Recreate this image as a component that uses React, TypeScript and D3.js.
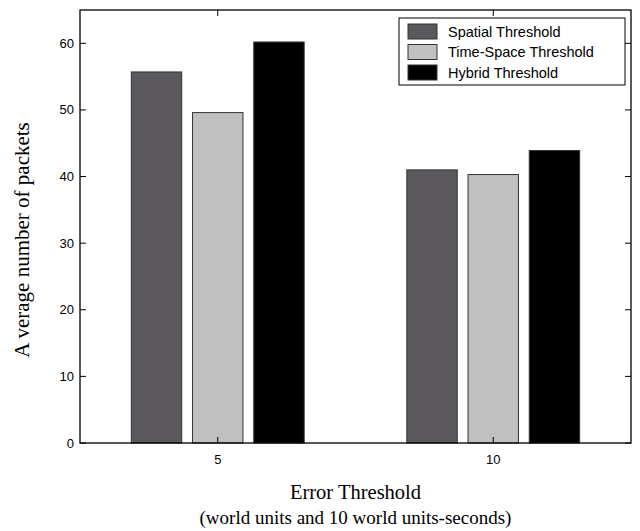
import React from "react";
import * as d3 from "d3";

const categories = ["5", "10"];
const seriesNames = ["Spatial Threshold", "Time-Space Threshold", "Hybrid Threshold"];
const spatial = [55.7, 41.0];
const timeSpace = [49.6, 40.3];
const hybrid = [60.2, 43.9];
const yTicks = [0, 10, 20, 30, 40, 50, 60];
const colors = ["#5b595e", "#c0c0c0", "#000000"];

const W = 640;
const H = 531;
const m = { left: 80, right: 631, top: 10, bottom: 443 };

export default function App() {
  const series = [spatial, timeSpace, hybrid];
  const x = d3.scaleLinear().domain([0.5, 2.5]).range([m.left, m.right]);
  const y = d3.scaleLinear().domain([0, 65]).range([m.bottom, m.top]);
  const spacing = 0.2222;
  const bw = 0.183;
  const tickLen = 6;
  const tickFont = "Liberation Sans, Arial, Helvetica, sans-serif";
  const serif = "Liberation Serif, Times New Roman, serif";

  return (
    <svg
      width={W}
      height={H}
      style={{ position: "absolute", left: 0, top: 0, background: "#fff" }}
    >
      {series.map((vals, si) =>
        vals.map((v, ci) => {
          const cx = ci + 1 + (si - 1) * spacing;
          const x0 = x(cx - bw / 2);
          const x1 = x(cx + bw / 2);
          return (
            <rect
              key={`${si}-${ci}`}
              x={x0}
              y={y(v)}
              width={x1 - x0}
              height={y(0) - y(v)}
              fill={colors[si]}
              stroke="#333"
              strokeWidth={1}
            />
          );
        })
      )}
      <rect
        x={m.left}
        y={m.top}
        width={m.right - m.left}
        height={m.bottom - m.top}
        fill="none"
        stroke="#000"
        strokeWidth={1.3}
      />
      {yTicks.map((t) => (
        <g key={t}>
          <line x1={m.left} x2={m.left + tickLen} y1={y(t)} y2={y(t)} stroke="#000" />
          <line x1={m.right} x2={m.right - tickLen} y1={y(t)} y2={y(t)} stroke="#000" />
          <text
            x={m.left - 6}
            y={y(t)}
            textAnchor="end"
            dominantBaseline="central"
            fontFamily={tickFont}
            fontSize={13}
          >
            {t}
          </text>
        </g>
      ))}
      {categories.map((c, i) => (
        <g key={c}>
          <line x1={x(i + 1)} x2={x(i + 1)} y1={m.bottom} y2={m.bottom - tickLen} stroke="#000" />
          <line x1={x(i + 1)} x2={x(i + 1)} y1={m.top} y2={m.top + tickLen} stroke="#000" />
          <text
            x={x(i + 1)}
            y={m.bottom + 16}
            textAnchor="middle"
            dominantBaseline="central"
            fontFamily={tickFont}
            fontSize={13}
          >
            {c}
          </text>
        </g>
      ))}
      <text
        x={(m.left + m.right) / 2}
        y={499}
        textAnchor="middle"
        fontFamily={serif}
        fontSize={20.5}
      >
        Error Threshold
      </text>
      <text
        x={(m.left + m.right) / 2}
        y={524}
        textAnchor="middle"
        fontFamily={serif}
        fontSize={19}
      >
        (world units and 10 world units-seconds)
      </text>
      <text
        transform={`translate(29, 240) rotate(-90)`}
        textAnchor="middle"
        fontFamily={serif}
        fontSize={21}
      >
        A verage number of packets
      </text>
      <g>
        <rect x={399} y={18} width={226} height={67} fill="#fff" stroke="#000" strokeWidth={1} />
        {seriesNames.map((n, i) => (
          <g key={n}>
            <rect
              x={408}
              y={24 + i * 20.5}
              width={29}
              height={15}
              fill={colors[i]}
              stroke="#333"
              strokeWidth={1}
            />
            <text
              x={448}
              y={31.5 + i * 20.5}
              dominantBaseline="central"
              fontFamily={tickFont}
              fontSize={14.5}
            >
              {n}
            </text>
          </g>
        ))}
      </g>
    </svg>
  );
}
